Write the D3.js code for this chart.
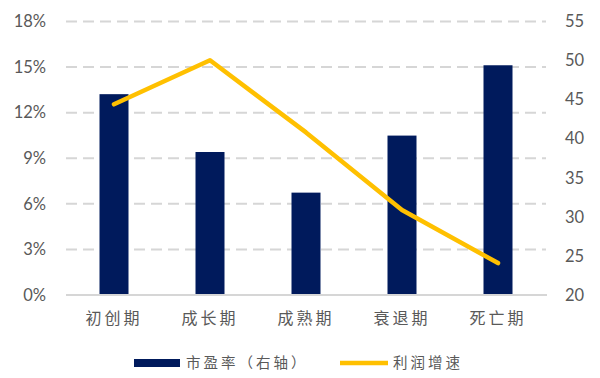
<!DOCTYPE html>
<html>
<head>
<meta charset="utf-8">
<script src="https://cdn.jsdelivr.net/npm/d3@7"></script>
<style>
  html, body { margin: 0; padding: 0; background: #fff; }
  svg { display: block; }
</style>
</head>
<body>
<svg id="chart" width="600" height="378"></svg>
<script>
const categories = ["初创期", "成长期", "成熟期", "衰退期", "死亡期"];
const peValues = [45.7, 38.3, 33.1, 40.4, 49.4];          // 市盈率（右轴）
const growthValues = [12.55, 15.45, 10.7, 5.6, 2.1];     // 利润增速 (%)
const leftTicks = [0, 3, 6, 9, 12, 15, 18];
const rightTicks = [20, 25, 30, 35, 40, 45, 50, 55];
const seriesNames = ["市盈率（右轴）", "利润增速"];

const svg = d3.select("#chart");
const plot = { left: 66, right: 546, top: 21.5, bottom: 295 };
const barColor = "#001a5c", lineColor = "#ffc000", gridColor = "#d6d6d6", textColor = "#595959";
const numFont = "Lato, 'Open Sans', sans-serif";
const cjkFont = "'Noto Sans CJK SC', sans-serif";

const x = d3.scaleBand().domain(categories).range([plot.left, plot.right]).paddingInner(0).paddingOuter(0);
const yL = d3.scaleLinear().domain([0, 18]).range([plot.bottom, plot.top]);
const yR = d3.scaleLinear().domain([20, 55]).range([plot.bottom, plot.top]);

// gridlines
svg.append("g").selectAll("line").data(leftTicks.filter(d => d > 0)).join("line")
  .attr("x1", plot.left).attr("x2", plot.right)
  .attr("y1", d => yL(d)).attr("y2", d => yL(d))
  .attr("stroke", gridColor).attr("stroke-width", 2).attr("stroke-dasharray", "11,6");

// left axis labels
const leftAxis = d3.axisLeft(yL).tickValues(leftTicks).tickFormat(d => d + "%").tickSize(0).tickPadding(0);
const gL = svg.append("g").attr("transform", `translate(46,0)`).call(leftAxis);
gL.select(".domain").remove();
gL.selectAll("text").attr("fill", textColor).style("font-family", numFont).style("font-size", "16.5px");

// right axis labels
const rightAxis = d3.axisRight(yR).tickValues(rightTicks).tickSize(0).tickPadding(0);
const gR = svg.append("g").attr("transform", `translate(565,0)`).call(rightAxis);
gR.select(".domain").remove();
gR.selectAll("text").attr("fill", textColor).style("font-family", numFont).style("font-size", "16.5px");

// bars
const barW = 29;
svg.append("g").selectAll("rect").data(peValues).join("rect")
  .attr("x", (d, i) => x(categories[i]) + x.bandwidth() / 2 - barW / 2)
  .attr("width", barW)
  .attr("y", d => yR(d))
  .attr("height", d => yR(20) - yR(d))
  .attr("fill", barColor);

// baseline
svg.append("line").attr("x1", plot.left).attr("x2", plot.right + 1)
  .attr("y1", plot.bottom).attr("y2", plot.bottom)
  .attr("stroke", gridColor).attr("stroke-width", 2);

// line
const line = d3.line()
  .x((d, i) => x(categories[i]) + x.bandwidth() / 2)
  .y(d => yL(d));
svg.append("path").datum(growthValues).attr("d", line)
  .attr("fill", "none").attr("stroke", lineColor).attr("stroke-width", 4.5)
  .attr("stroke-linecap", "round").attr("stroke-linejoin", "round");

// x labels
const xAxis = d3.axisBottom(x).tickSize(0).tickPadding(0);
const gX = svg.append("g").attr("transform", `translate(0,${plot.bottom + 18})`).call(xAxis);
gX.select(".domain").remove();
gX.selectAll("text").attr("fill", textColor).style("font-family", cjkFont).style("font-size", "16px")
  .style("letter-spacing", "3px").attr("dy", "0.71em");

// legend
const lg = svg.append("g");
lg.append("rect").attr("x", 134).attr("y", 359).attr("width", 46).attr("height", 8).attr("fill", barColor);
lg.append("text").attr("x", 186).attr("y", 363).attr("dy", "0.35em").text(seriesNames[0])
  .attr("fill", textColor).style("font-family", cjkFont).style("font-size", "14.5px").style("letter-spacing", "3px");
lg.append("line").attr("x1", 340).attr("x2", 388).attr("y1", 363).attr("y2", 363)
  .attr("stroke", lineColor).attr("stroke-width", 4.5);
lg.append("text").attr("x", 393).attr("y", 363).attr("dy", "0.35em").text(seriesNames[1])
  .attr("fill", textColor).style("font-family", cjkFont).style("font-size", "14.5px").style("letter-spacing", "3px");
</script>
</body>
</html>
